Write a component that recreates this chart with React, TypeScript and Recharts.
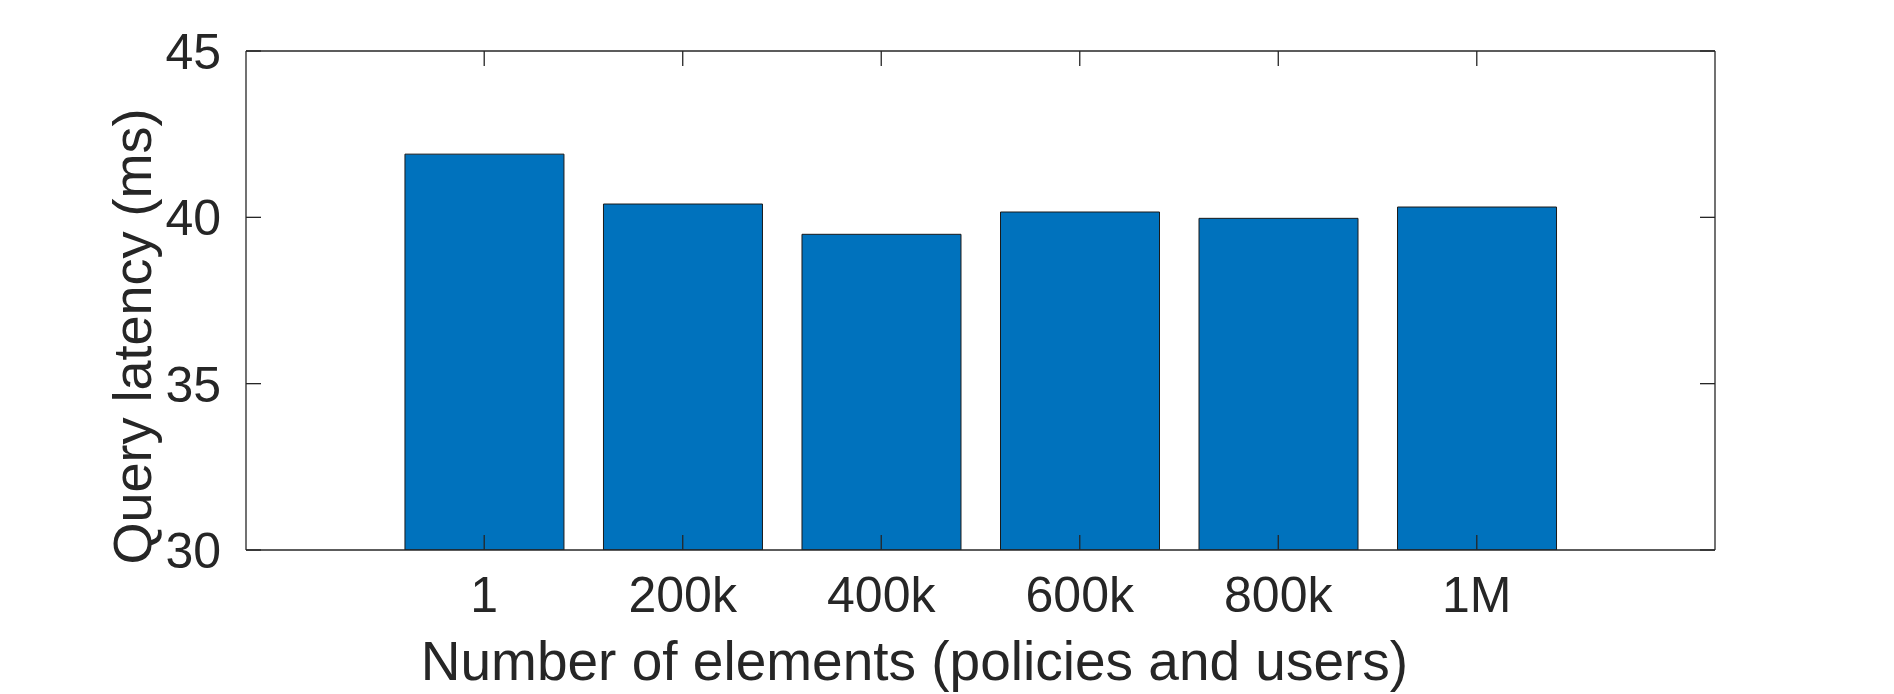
import React from "react";
import { BarChart, Bar, XAxis, YAxis, Label, ReferenceLine } from "recharts";

const categories = [1, 2, 3, 4, 5, 6];
const tickLabels = ["1", "200k", "400k", "600k", "800k", "1M"];
const latencyMs = [41.9, 40.4, 39.49, 40.16, 39.97, 40.31];
const yTicks = [30, 35, 40, 45];
const xDomain: [number, number] = [-0.2, 7.2];
const yDomain: [number, number] = [30, 45];

const data = categories.map((c, i) => ({ pos: c, label: tickLabels[i], value: latencyMs[i] }));

const FONT = '"Liberation Sans", Arial, Helvetica, sans-serif';
const INK = "#262626";
const TICK_LEN = 15;

const BottomTick = (props: any) => {
  const { x, y, payload } = props;
  const idx = categories.indexOf(payload.value);
  return (
    <g>
      <line x1={x} x2={x} y1={y - 26} y2={y - 26 - TICK_LEN} stroke={INK} strokeWidth={1.3} />
      <text x={x} y={y} dy="0.72em" textAnchor="middle" fontFamily={FONT} fontSize={50} fill={INK}>
        {idx >= 0 ? tickLabels[idx] : ""}
      </text>
    </g>
  );
};

const LeftTick = (props: any) => {
  const { x, y, payload } = props;
  return (
    <g>
      <line x1={x + 25} x2={x + 25 + TICK_LEN} y1={y} y2={y} stroke={INK} strokeWidth={1.3} />
      <text x={x} y={y} dy="0.36em" textAnchor="end" fontFamily={FONT} fontSize={50} fill={INK}>
        {payload.value}
      </text>
    </g>
  );
};

// short inward tick at the top end of a vertical reference line
const TopTickShape = (props: any) => {
  const { x1, y1, y2 } = props;
  const top = Math.min(y1, y2);
  return <line x1={x1} x2={x1} y1={top} y2={top + TICK_LEN} stroke={INK} strokeWidth={1.3} />;
};

// short inward tick at the right end of a horizontal reference line
const RightTickShape = (props: any) => {
  const { x1, x2, y1 } = props;
  const right = Math.max(x1, x2);
  return <line x1={right - TICK_LEN} x2={right} y1={y1} y2={y1} stroke={INK} strokeWidth={1.3} />;
};

export default function App() {
  return (
    <div style={{ position: "absolute", left: 0, top: 0, background: "#fff" }}>
      <BarChart
        width={1894}
        height={694}
        data={data}
        margin={{ top: 51, right: 179, bottom: 0, left: 0 }}
      >
        <XAxis
          dataKey="pos"
          type="number"
          domain={xDomain}
          ticks={categories}
          allowDataOverflow
          orientation="bottom"
          height={144}
          tickSize={0}
          tickMargin={26}
          tickLine={false}
          tick={<BottomTick />}
          axisLine={{ stroke: INK, strokeWidth: 1.3 }}
        >
          <Label
            content={(p: any) => {
              const vb = p.viewBox;
              return (
                <text
                  x={vb.x + vb.width / 2 - 66}
                  y={vb.y + 130}
                  textAnchor="middle"
                  fontFamily={FONT}
                  fontSize={55}
                  fill={INK}
                >
                  Number of elements (policies and users)
                </text>
              );
            }}
          />
        </XAxis>
        <YAxis
          type="number"
          domain={yDomain}
          ticks={yTicks}
          allowDataOverflow
          orientation="left"
          width={246}
          tickSize={0}
          tickMargin={25}
          tickLine={false}
          tick={<LeftTick />}
          axisLine={{ stroke: INK, strokeWidth: 1.3 }}
        >
          <Label
            content={(p: any) => {
              const vb = p.viewBox;
              const cx = vb.x + 132;
              const cy = vb.y + vb.height / 2 + 36;
              return (
                <text
                  x={cx}
                  y={cy}
                  transform={`rotate(-90, ${cx}, ${cy})`}
                  textAnchor="middle"
                  dominantBaseline="central"
                  fontFamily={FONT}
                  fontSize={54}
                  fill={INK}
                >
                  Query latency (ms)
                </text>
              );
            }}
          />
        </YAxis>
        <Bar
          dataKey="value"
          fill="#0072BD"
          stroke="#1a1a1a"
          strokeWidth={1}
          barSize={159}
          isAnimationActive={false}
        />
        <ReferenceLine y={yDomain[1]} stroke={INK} strokeWidth={1.3} ifOverflow="extendDomain" />
        <ReferenceLine x={xDomain[1]} stroke={INK} strokeWidth={1.3} ifOverflow="extendDomain" />
        {categories.map((c) => (
          <ReferenceLine key={`tt${c}`} x={c} shape={<TopTickShape />} />
        ))}
        {yTicks.map((t) => (
          <ReferenceLine key={`rt${t}`} y={t} shape={<RightTickShape />} ifOverflow="extendDomain" />
        ))}
      </BarChart>
    </div>
  );
}
